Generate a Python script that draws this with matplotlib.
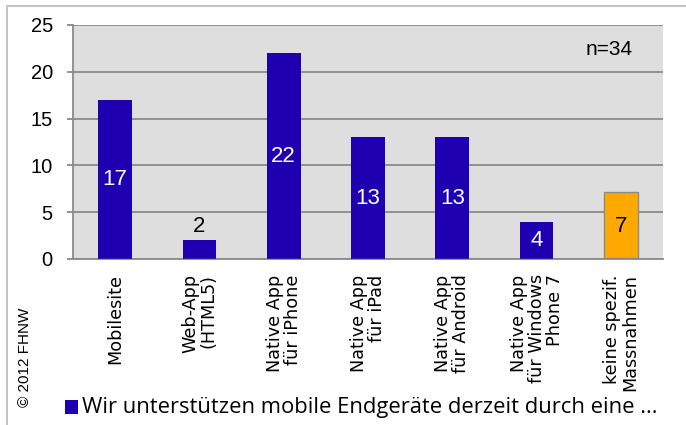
import matplotlib
matplotlib.use("Agg")
import matplotlib.pyplot as plt
from matplotlib.patches import Rectangle

categories = ["Mobilesite", "Web-App\n(HTML5)", "Native App\nfür iPhone", "Native App\nfür iPad",
              "Native App\nfür Android", "Native App\nfür Windows\nPhone 7", "keine spezif.\nMassnahmen"]
blue_values = [17, 2, 22, 13, 13, 4, 0.15]
orange_values = [0, 0, 0, 0, 0, 0, 7]
label_values = [17, 2, 22, 13, 13, 4, 7]
yticks = [0, 5, 10, 15, 20, 25]
legend_label = "Wir unterstützen mobile Endgeräte derzeit durch eine ..."
note = "n=34"
copyright_text = "© 2012 FHNW"

BLUE = "#1f00b0"
ORANGE = "#ffa800"

fig = plt.figure(figsize=(6.86, 4.25), dpi=100)
fig.patch.set_facecolor("white")
# outer border
fig.add_artist(Rectangle((7/686, -0.05), 700/686, 1 - 6/425 + 0.05, transform=fig.transFigure,
                         fill=False, edgecolor="#c4c4c4", linewidth=1.5))

ax = fig.add_axes([73/686, 1 - 259/425, 590/686, 234/425])
ax.set_facecolor("#dedede")
x = list(range(len(categories)))
ax.set_xlim(-0.5, len(categories) - 0.5)
ax.set_ylim(0, 25)
ax.set_yticks(yticks)
ax.yaxis.grid(True, color="#8a8a8a", linewidth=1.3)
ax.set_axisbelow(True)

ax.bar(x, blue_values, width=0.40, color=BLUE, zorder=3)
ax.bar(x, orange_values, width=0.40, bottom=[b if o > 0 else 0 for b, o in zip(blue_values, orange_values)],
       color=ORANGE, edgecolor="#8a8a8a", linewidth=1.0, zorder=3)

lab_font = dict(fontsize=16, family="Liberation Sans", zorder=4, ha="center")
for xi, v, o in zip(x, label_values, orange_values):
    if o > 0:
        ax.text(xi, v / 2, str(v), va="center", color="black", **lab_font)
    elif v < 3:
        ax.text(xi, v + 0.3, str(v), va="bottom", color="black", **lab_font)
    else:
        ax.text(xi, v / 2, str(v), va="center", color="white", **lab_font)

for s in ["top", "right"]:
    ax.spines[s].set_visible(False)
for s in ["left", "bottom"]:
    ax.spines[s].set_color("#8a8a8a")
    ax.spines[s].set_linewidth(1.3)

ax.tick_params(axis="y", direction="out", length=4.5, color="#8a8a8a", width=1.3,
               labelsize=14.5, pad=10)
for lab in ax.get_yticklabels():
    lab.set_family("Liberation Sans")
ax.set_xticks(x)
ax.set_xticklabels(categories, rotation=90, ha="center", va="top", multialignment="right",
                   fontsize=12.7, family="DejaVu Sans", linespacing=1.0)
ax.tick_params(axis="x", length=0, pad=11)

ax.text(0.948, 0.895, note, transform=ax.transAxes, ha="right", va="center",
        fontsize=15, family="Liberation Sans")

# legend
fig.add_artist(Rectangle((65/686, 1 - 414/425), 13/686, 14/425, transform=fig.transFigure,
                         facecolor=BLUE, edgecolor="none"))
fig.text(82/686, 1 - 407/425, legend_label, ha="left", va="center", fontsize=15.8, family="Open Sans")

fig.text(25/686, 1 - 357/425, copyright_text, rotation=90, ha="center", va="center",
         fontsize=11, family="Liberation Sans")

fig.savefig("out.png", dpi=100)
